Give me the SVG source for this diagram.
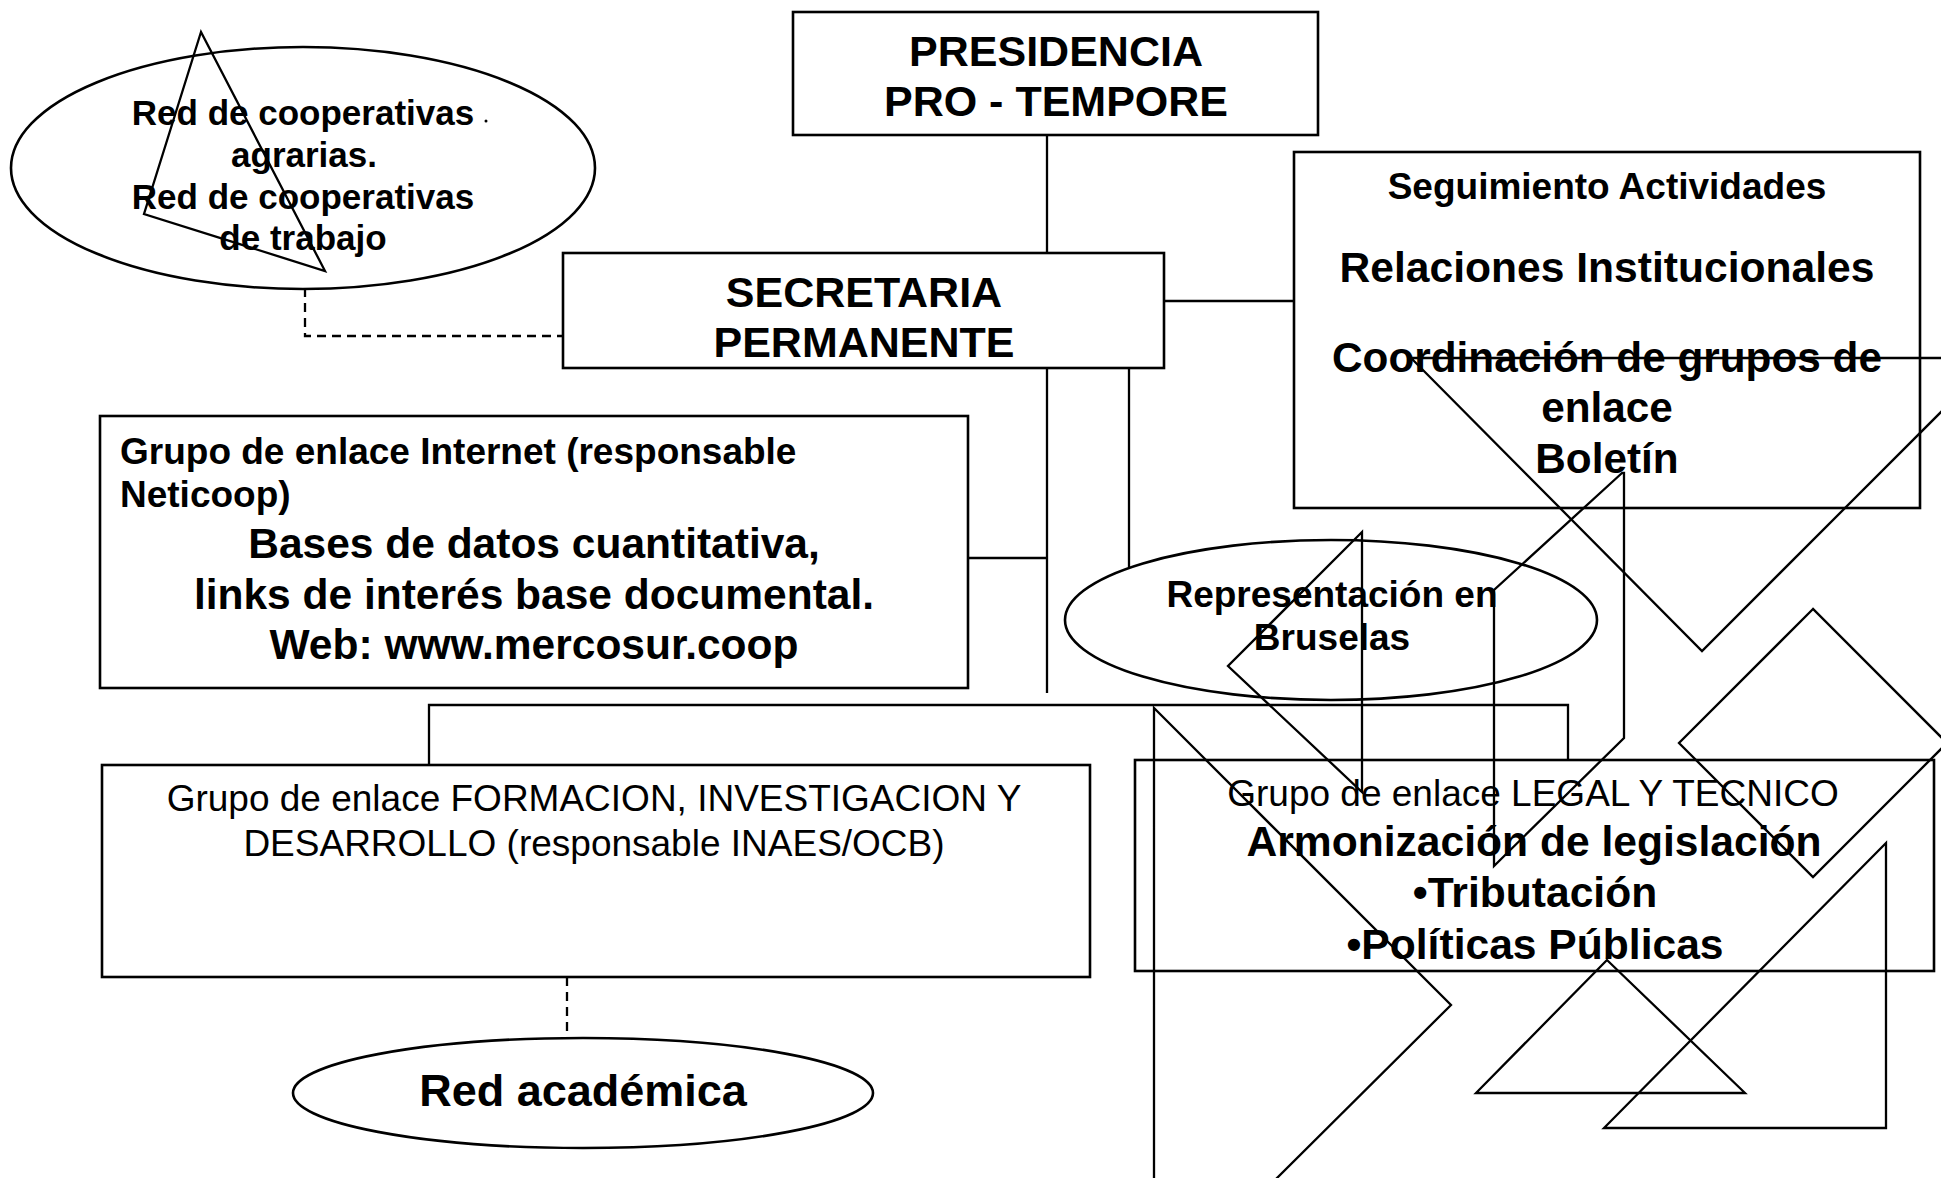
<svg xmlns="http://www.w3.org/2000/svg" width="1941" height="1178" viewBox="0 0 1941 1178">
<style>
.box{fill:#fff;stroke:#000;stroke-width:2.6}
.ln{fill:none;stroke:#000;stroke-width:2.3}
.dash{stroke-dasharray:9 6}
.b{font-family:"Liberation Sans",Arial,sans-serif;font-weight:bold;fill:#000}
.r{font-family:"Liberation Sans",Arial,sans-serif;fill:#000}
.c{text-anchor:middle}
</style>
<rect width="1941" height="1178" fill="#fff"/>
<g id="connectors">
<line class="ln" x1="1047" y1="135" x2="1047" y2="253"/>
<line class="ln" x1="1164" y1="301" x2="1294" y2="301"/>
<line class="ln" x1="1047" y1="368" x2="1047" y2="693"/>
<line class="ln" x1="968" y1="558" x2="1047" y2="558"/>
<line class="ln" x1="1129" y1="368" x2="1129" y2="567"/>
<polyline class="ln" points="429,765 429,705 1568,705 1568,760"/>
<polyline class="ln dash" points="305,288 305,336 563,336"/>
<line class="ln dash" x1="567" y1="977" x2="567" y2="1038"/>
</g>
<g id="presidencia">
<rect class="box" x="793" y="12" width="525" height="123"/>
<text class="b c" x="1056" y="66" font-size="43">PRESIDENCIA</text>
<text class="b c" x="1056" y="116" font-size="43">PRO - TEMPORE</text>
</g>
<g id="secretaria">
<rect class="box" x="563" y="253" width="601" height="115"/>
<text class="b c" x="864" y="307" font-size="43">SECRETARIA</text>
<text class="b c" x="864" y="357" font-size="43">PERMANENTE</text>
</g>
<g id="red-cooperativas">
<ellipse class="box" cx="303" cy="168" rx="292" ry="121"/>
<text class="b c" x="303" y="125" font-size="35">Red de cooperativas</text>
<circle cx="486" cy="121" r="1.5" fill="#000"/>
<text class="b c" x="304" y="167" font-size="35">agrarias.</text>
<text class="b c" x="303" y="209" font-size="35">Red de cooperativas</text>
<text class="b c" x="303" y="250" font-size="35">de trabajo</text>
</g>
<g id="seguimiento">
<rect class="box" x="1294" y="152" width="626" height="356"/>
<text class="b c" x="1607" y="199" font-size="37">Seguimiento Actividades</text>
<text class="b c" x="1607" y="282" font-size="42.6">Relaciones Institucionales</text>
<text class="b c" x="1607" y="372" font-size="42.3">Coordinación de grupos de</text>
<text class="b c" x="1607" y="422" font-size="42.3">enlace</text>
<text class="b c" x="1607" y="473" font-size="42.3">Boletín</text>
</g>
<g id="internet">
<rect class="box" x="100" y="416" width="868" height="272"/>
<text class="b" x="120" y="464" font-size="37">Grupo de enlace Internet (responsable</text>
<text class="b" x="120" y="507" font-size="37">Neticoop)</text>
<text class="b c" x="534" y="558" font-size="42.5">Bases de datos cuantitativa,</text>
<text class="b c" x="534" y="609" font-size="42.5">links de interés base documental.</text>
<text class="b c" x="534" y="659" font-size="42.5">Web: www.mercosur.coop</text>
</g>
<g id="bruselas">
<ellipse class="box" cx="1331" cy="620" rx="266" ry="80"/>
<text class="b c" x="1332" y="607" font-size="37">Representación en</text>
<text class="b c" x="1332" y="650" font-size="37">Bruselas</text>
</g>
<g id="formacion">
<rect class="box" x="102" y="765" width="988" height="212"/>
<text class="r c" x="594" y="811" font-size="37">Grupo de enlace FORMACION, INVESTIGACION Y</text>
<text class="r c" x="594" y="856" font-size="37">DESARROLLO (responsable INAES/OCB)</text>
</g>
<g id="red-academica">
<ellipse class="box" cx="583" cy="1093" rx="290" ry="55"/>
<text class="b c" x="583" y="1106" font-size="45">Red académica</text>
</g>
<g id="legal">
<rect class="box" x="1135" y="760" width="799" height="211"/>
<text class="r c" x="1533" y="806" font-size="37">Grupo de enlace LEGAL Y TECNICO</text>
<text class="b c" x="1534" y="856" font-size="42.6">Armonización de legislación</text>
<text class="b c" x="1535" y="907" font-size="42.6">•Tributación</text>
<text class="b c" x="1535" y="959" font-size="42.6">•Políticas Públicas</text>
</g>
<g id="overlay-lines">
<polygon class="ln" points="201,32 144,214 325,271"/>
<polyline class="ln" points="1941,358 1411,358 1702,651 1945,408"/>
<polygon class="ln" points="1813,609 1679,743 1813,877 1947,743"/>
<polygon class="ln" points="1886,843 1886,1128 1604,1128"/>
<polygon class="ln" points="1607,960 1476,1093 1745,1093"/>
<polyline class="ln" points="1154,1180 1154,708 1451,1005 1275,1180"/>
<polygon class="ln" points="1362,532 1228,666 1362,792"/>
<polygon class="ln" points="1622,473 1494,590 1494,866 1624,738 1624,473"/>
</g>
</svg>
